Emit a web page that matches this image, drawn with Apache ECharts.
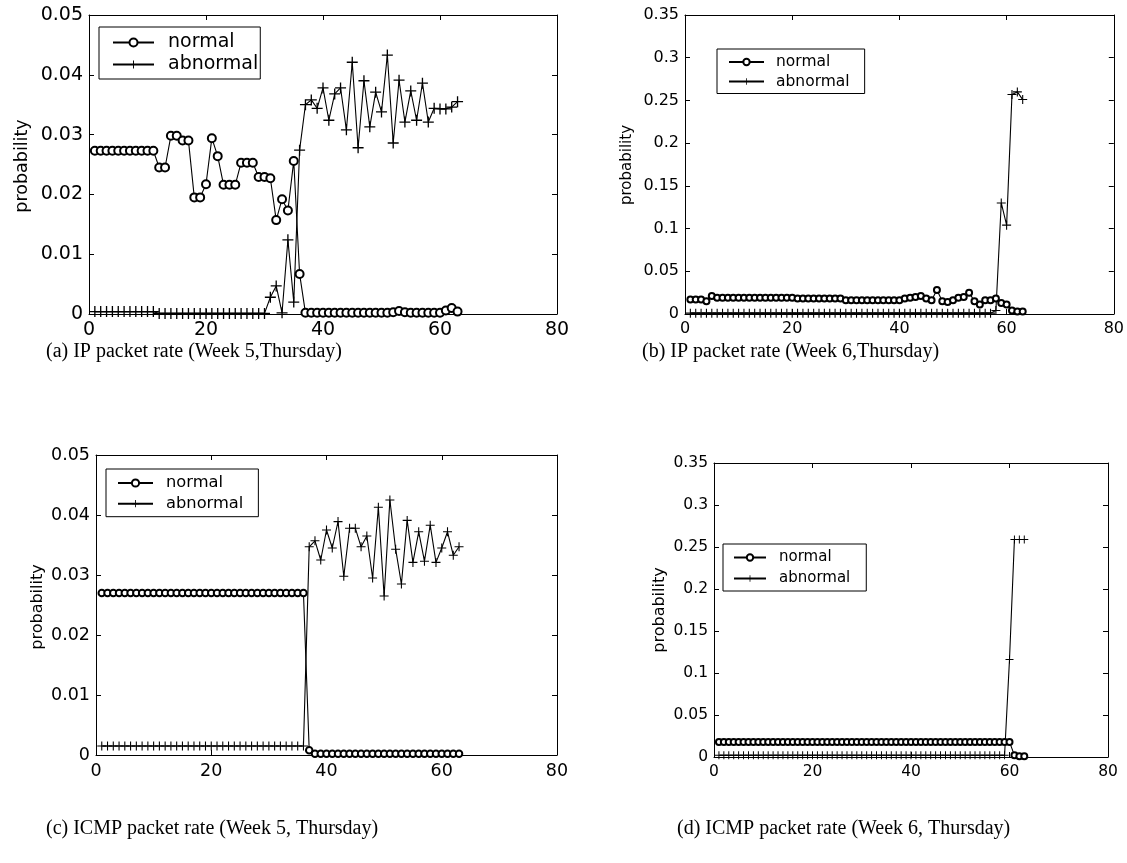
<!DOCTYPE html>
<html>
<head>
<meta charset="utf-8">
<script src="https://cdn.jsdelivr.net/npm/echarts@6/dist/echarts.min.js"></script>
<style>html,body{margin:0;padding:0;background:#fff}#c{width:1127px;height:863px}</style>
</head>
<body>
<div id="c"></div>
<script>
// ---- data (x = 1..63) ----
const seriesNames = ['normal', 'abnormal'];
const xTicks = [0, 20, 40, 60, 80];
const yTicksSmall = [0, 0.01, 0.02, 0.03, 0.04, 0.05];
const yTicksLarge = [0, 0.05, 0.1, 0.15, 0.2, 0.25, 0.3, 0.35];
const captions = [
  '(a) IP packet rate (Week 5,Thursday)',
  '(b) IP packet rate (Week 6,Thursday)',
  '(c) ICMP packet rate (Week 5, Thursday)',
  '(d) ICMP packet rate (Week 6, Thursday)'
];
const yLabel = 'probability';

const aNormal = [0.0273,0.0273,0.0273,0.0273,0.0273,0.0273,0.0273,0.0273,0.0273,0.0273,0.0273,
  0.0245,0.0245,0.0298,0.0298,0.0290,0.0290,0.0195,0.0195,0.0217,0.0294,0.0264,0.0216,0.0216,0.0216,
  0.0253,0.0253,0.0253,0.0229,0.0229,0.0227,0.0157,0.0192,0.0173,0.0256,0.0067,
  0.0002,0.0002,0.0002,0.0002,0.0002,0.0002,0.0002,0.0002,0.0002,0.0002,0.0002,0.0002,0.0002,0.0002,
  0.0002,0.0003,0.0005,0.0003,0.0002,0.0002,0.0002,0.0002,0.0002,0.0002,0.0006,0.0010,0.0004];
const aAbnormal = [0.0004,0.0004,0.0004,0.0004,0.0004,0.0004,0.0004,0.0004,0.0004,0.0004,0.0004,
  0.0001,0.0001,0.0001,0.0001,0.0001,0.0001,0.0001,0.0001,0.0001,0.0001,0.0001,0.0001,0.0001,0.0001,
  0.0001,0.0001,0.0001,0.0001,0.0001,0.0028,0.0047,0.0002,0.0124,0.0020,0.0274,
  0.0350,0.0358,0.0344,0.0378,0.0324,0.0368,0.0378,0.0308,0.0421,0.0278,0.0390,0.0313,0.0371,0.0338,
  0.0433,0.0286,0.0391,0.0321,0.0373,0.0324,0.0386,0.0321,0.0344,0.0343,0.0343,0.0346,0.0355];

const bNormal = [0.017,0.017,0.017,0.015,0.021,
  0.019,0.019,0.019,0.019,0.019,0.019,0.019,0.019,0.019,0.019,0.019,0.019,0.019,0.019,0.019,
  0.018,0.018,0.018,0.018,0.018,0.018,0.018,0.018,0.018,
  0.016,0.016,0.016,0.016,0.016,0.016,0.016,0.016,0.016,0.016,0.016,
  0.018,0.019,0.020,0.021,0.018,0.016,0.028,0.015,0.014,0.016,0.019,0.020,0.025,0.015,0.011,
  0.016,0.016,0.018,0.013,0.011,0.004,0.003,0.003];
const bAbnormal = [0.001,0.001,0.001,0.001,0.001,0.001,0.001,0.001,0.001,0.001,
  0.001,0.001,0.001,0.001,0.001,0.001,0.001,0.001,0.001,0.001,
  0.001,0.001,0.001,0.001,0.001,0.001,0.001,0.001,0.001,0.001,
  0.001,0.001,0.001,0.001,0.001,0.001,0.001,0.001,0.001,0.001,
  0.001,0.001,0.001,0.001,0.001,0.001,0.001,0.001,0.001,0.001,
  0.001,0.001,0.001,0.001,0.001,0.001,0.001,0.004,0.130,0.104,0.257,0.260,0.251];

const cNormal = [0.027,0.027,0.027,0.027,0.027,0.027,0.027,0.027,0.027,0.027,
  0.027,0.027,0.027,0.027,0.027,0.027,0.027,0.027,0.027,0.027,
  0.027,0.027,0.027,0.027,0.027,0.027,0.027,0.027,0.027,0.027,
  0.027,0.027,0.027,0.027,0.027,0.027,0.0008,
  0.0002,0.0002,0.0002,0.0002,0.0002,0.0002,0.0002,0.0002,0.0002,0.0002,0.0002,0.0002,0.0002,
  0.0002,0.0002,0.0002,0.0002,0.0002,0.0002,0.0002,0.0002,0.0002,0.0002,0.0002,0.0002,0.0002];
const cAbnormal = [0.0015,0.0015,0.0015,0.0015,0.0015,0.0015,0.0015,0.0015,0.0015,0.0015,
  0.0015,0.0015,0.0015,0.0015,0.0015,0.0015,0.0015,0.0015,0.0015,0.0015,
  0.0015,0.0015,0.0015,0.0015,0.0015,0.0015,0.0015,0.0015,0.0015,0.0015,
  0.0015,0.0015,0.0015,0.0015,0.0015,0.0015,
  0.0347,0.0357,0.0325,0.0375,0.0345,0.0389,0.0298,0.0378,0.0378,0.0347,0.0365,0.0295,0.0413,
  0.0265,0.0425,0.0343,0.0285,0.0391,0.0321,0.0372,0.0323,0.0383,0.0321,0.0345,0.0372,0.0333,0.0347];

const dNormal = [0.018,0.018,0.018,0.018,0.018,0.018,0.018,0.018,0.018,0.018,
  0.018,0.018,0.018,0.018,0.018,0.018,0.018,0.018,0.018,0.018,
  0.018,0.018,0.018,0.018,0.018,0.018,0.018,0.018,0.018,0.018,
  0.018,0.018,0.018,0.018,0.018,0.018,0.018,0.018,0.018,0.018,
  0.018,0.018,0.018,0.018,0.018,0.018,0.018,0.018,0.018,0.018,
  0.018,0.018,0.018,0.018,0.018,0.018,0.018,0.018,0.018,0.018,0.002,0.001,0.001];
const dAbnormal = [0.002,0.002,0.002,0.002,0.002,0.002,0.002,0.002,0.002,0.002,
  0.002,0.002,0.002,0.002,0.002,0.002,0.002,0.002,0.002,0.002,
  0.002,0.002,0.002,0.002,0.002,0.002,0.002,0.002,0.002,0.002,
  0.002,0.002,0.002,0.002,0.002,0.002,0.002,0.002,0.002,0.002,
  0.002,0.002,0.002,0.002,0.002,0.002,0.002,0.002,0.002,0.002,
  0.002,0.002,0.002,0.002,0.002,0.002,0.002,0.002,0.002,0.116,0.259,0.259,0.259];

// ---- chart ----
const PLUS = 'path://M4.4,0H5.6V4.4H10V5.6H5.6V10H4.4V5.6H0V4.4H4.4Z';
const FONT = 'DejaVu Sans';
const panels = [
  {grid:{left:89, top:15, width:468, height:299}, yTicks:yTicksSmall, normal:aNormal, abnormal:aAbnormal,
   cs:8, ps:11, tf:19, yf:17.5,
   legend:{left:99, top:27, fs:19, gap:3, iw:41, ih:10, pad:[6,2,5,13], tp:9}, ylab:[22,166], cap:[46,352]},
  {grid:{left:685, top:15, width:429, height:299}, yTicks:yTicksLarge, normal:bNormal, abnormal:bAbnormal,
   cs:6, ps:9, tf:16, yf:15,
   legend:{left:717, top:49, fs:15.5, gap:3.5, iw:35, ih:8, pad:[5,15,4,11], tp:7}, ylab:[627,165], cap:[642,352]},
  {grid:{left:96, top:455, width:461, height:300}, yTicks:yTicksSmall, normal:cNormal, abnormal:cAbnormal,
   cs:6.5, ps:9, tf:17.5, yf:16,
   legend:{left:106, top:469, fs:16.3, gap:4.7, iw:35, ih:9, pad:[6,15,5,11], tp:8}, ylab:[38,607], cap:[46,829]},
  {grid:{left:714, top:463, width:394, height:294}, yTicks:yTicksLarge, normal:dNormal, abnormal:dAbnormal,
   cs:6, ps:8, tf:15.5, yf:16,
   legend:{left:723, top:544, fs:15, gap:6, iw:32, ih:8, pad:[6,16,5,10], tp:8}, ylab:[660,610], cap:[677,829]}
];

const toXY = arr => arr.map((v, i) => [i + 1, v]);
const option = {animation:false, backgroundColor:'#fff', grid:[], xAxis:[], yAxis:[], series:[], legend:[], graphic:[]};

panels.forEach((p, k) => {
  const labelStyle = {color:'#000', fontFamily:FONT, fontSize:p.tf};
  option.grid.push(Object.assign({show:false, containLabel:false}, p.grid));
  const yMax = p.yTicks[p.yTicks.length - 1];
  const yInt = p.yTicks[1] - p.yTicks[0];
  const xb = {type:'value', gridIndex:k, min:xTicks[0], max:xTicks[xTicks.length-1], interval:xTicks[1]-xTicks[0],
    splitLine:{show:false}, axisLine:{show:true, onZero:false, lineStyle:{color:'#000', width:1}},
    axisTick:{show:true, inside:true, length:5, lineStyle:{color:'#000'}}};
  const yb = {type:'value', gridIndex:k, min:0, max:yMax, interval:yInt,
    splitLine:{show:false}, axisLine:{show:true, onZero:false, lineStyle:{color:'#000', width:1}},
    axisTick:{show:true, inside:true, length:5, lineStyle:{color:'#000'}}};
  const xi = option.xAxis.length;
  option.xAxis.push(Object.assign({}, xb, {position:'bottom', axisLabel:Object.assign({margin:7}, labelStyle)}));
  option.xAxis.push(Object.assign({}, xb, {position:'top', axisLabel:{show:false}}));
  const yi = option.yAxis.length;
  option.yAxis.push(Object.assign({}, yb, {position:'left', axisLabel:Object.assign({margin:6, formatter: v => String(+v.toFixed(4))}, labelStyle)}));
  option.yAxis.push(Object.assign({}, yb, {position:'right', axisLabel:{show:false}}));

  option.series.push({type:'line', name:seriesNames[0], xAxisIndex:xi, yAxisIndex:yi, data:toXY(p.normal),
    symbol:'emptyCircle', symbolSize:p.cs, showAllSymbol:true, clip:false,
    lineStyle:{color:'#000', width:1.1}, itemStyle:{color:'#000', borderWidth:1.1}});
  option.series.push({type:'line', name:seriesNames[1], xAxisIndex:xi, yAxisIndex:yi, data:toXY(p.abnormal),
    symbol:PLUS, symbolSize:p.ps, showAllSymbol:true, clip:false,
    lineStyle:{color:'#000', width:1.1}, itemStyle:{color:'#000'}});

  const L = p.legend;
  option.legend.push({data:seriesNames, orient:'vertical', left:L.left, top:L.top,
    selectedMode:false, backgroundColor:'#fff', borderColor:'#000', borderWidth:1, borderRadius:0,
    padding:L.pad, itemWidth:L.iw, itemHeight:L.ih, itemGap:L.gap,
    textStyle:{color:'#000', fontFamily:FONT, fontSize:L.fs, padding:[0,0,0,L.tp]}});

  option.graphic.push({type:'text', x:p.ylab[0], y:p.ylab[1], rotation:Math.PI/2,
    style:{text:yLabel, fill:'#000', font:p.yf + 'px "DejaVu Sans"', textAlign:'center', textVerticalAlign:'middle'}});
  option.graphic.push({type:'text', x:p.cap[0], y:p.cap[1],
    style:{text:captions[k], fill:'#000', font:'20px "Liberation Serif"', textAlign:'left', textVerticalAlign:'middle'}});
});

const chart = echarts.init(document.getElementById('c'), null, {renderer:'canvas'});
chart.setOption(option);
</script>
</body>
</html>
